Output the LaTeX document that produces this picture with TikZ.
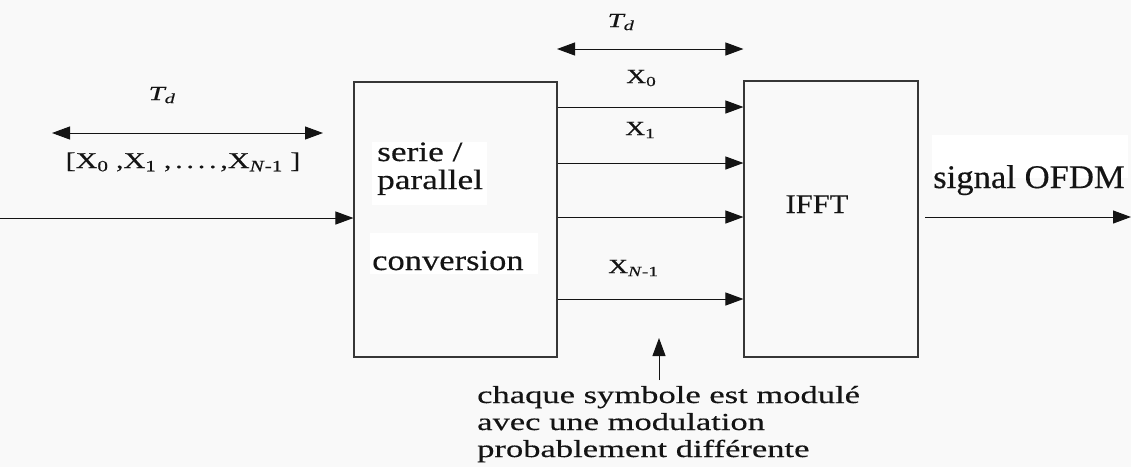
\documentclass[tikz,border=0pt]{standalone}
\usepackage{fontspec}
\setmainfont{Liberation Serif}
% the same serif face at several horizontal widths
\newfontfamily\noteface{Liberation Serif}[FakeStretch=1.41,FakeBold=0.35]
\newfontfamily\spface{Liberation Serif}[FakeStretch=1.26,FakeBold=0.35]
\newfontfamily\convface{Liberation Serif}[FakeStretch=1.19,FakeBold=0.35]
\newfontfamily\fftface{Liberation Serif}[FakeStretch=1.13,FakeBold=0.35]
\newfontfamily\sigface{Liberation Serif}[FakeStretch=1.05,FakeBold=0.35]
\newfontfamily\symface{Liberation Serif}[FakeStretch=1.38,FakeBold=0.3]
\newfontfamily\seqface{Liberation Serif}[FakeStretch=1.34,FakeBold=0.3]
\newfontfamily\durface{Liberation Serif}[FakeStretch=1.45,FakeBold=0.3]
\usetikzlibrary{arrows.meta}
\definecolor{paper}{RGB}{249,249,249}
\definecolor{ink}{RGB}{20,20,20}
\begin{document}
\begin{tikzpicture}[x=1pt,y=-1pt,
  block/.style={draw=ink!85, line width=1.1pt, inner sep=0pt},
  arr/.style={draw=ink, line width=1pt, -{Triangle[length=18pt,width=13pt]}},
  span/.style={draw=ink, line width=1pt, {Triangle[length=18pt,width=13pt]}-{Triangle[length=18pt,width=13pt]}},
  lbl/.style={inner sep=0pt, text=ink},
  sym/.style={lbl, font=\symface\fontsize{20}{24}\selectfont},
  dur/.style={lbl, font=\durface\fontsize{20}{24}\selectfont\itshape}]

% page and light paper patches behind some labels
\fill[paper] (0,0) rectangle (1131,467);
\useasboundingbox (0,0) rectangle (1131,467);
\fill[white] (372,142) rectangle (487,205);
\fill[white] (370,233) rectangle (538,274);
\fill[white] (932,135) rectangle (1128,178);

% blocks
\node[block, minimum width=203pt, minimum height=275pt] (sp) at (455.5,219.5) {};
\node[block, minimum width=174pt, minimum height=276pt] (ifft) at (831,219) {};

% block labels
\node[lbl, font=\spface\fontsize{28}{28}\selectfont, anchor=base west] (sp1) at (377,161) {serie /};
\node[lbl, font=\spface\fontsize{28}{28}\selectfont, anchor=base west] (sp2) at (377,189) {parallel};
\node[lbl, font=\convface\fontsize{29}{30}\selectfont, anchor=base west] (sp3) at (372,270) {conversion};
\node[lbl, font=\fftface\fontsize{27}{30}\selectfont, anchor=base] (fftlbl) at (817,213) {IFFT};

% serial input
\coordinate (in) at (0,218);
\node[dur, anchor=base] (tdin) at (162,100) {T\textsubscript{d}};
\coordinate (tdl) at (52,133);
\coordinate (tdr) at (323,133);
\draw[span] (tdl) -- (tdr);
\node[lbl, font=\seqface\fontsize{22.5}{26}\selectfont, anchor=base] (seq) at (183,168)
  {[X\textsubscript{0}\ ,X\textsubscript{1}\ ,\,.\,.\,.\,.\,,X\textsubscript{\textit{N}-1}\ ]};
\draw[arr] (in) -- (in -| sp.west);

% parallel branches
\coordinate (tdt) at (557,49);
\draw[span] (tdt) -- (tdt -| ifft.west);
\node[dur, anchor=base] (tdout) at (621,27) {T\textsubscript{d}};
\foreach \y in {107,163,217,299}
  \draw[arr] (sp.east |- 0,\y) -- (ifft.west |- 0,\y);
\node[sym, anchor=base west] (x0) at (626,83) {X\textsubscript{0}};
\node[sym, anchor=base west] (x1) at (625,135) {X\textsubscript{1}};
\node[sym, anchor=base west] (xn) at (608,273) {X\textsubscript{\textit{N}-1}};

% output
\coordinate (outs) at (925,217);
\coordinate (out) at (1131,217);
\draw[arr] (outs) -- (out);
\node[lbl, font=\sigface\fontsize{33}{36}\selectfont, anchor=base west] (sig) at (933,188) {signal OFDM};

% note on the modulation of each symbol (base = last line)
\node[lbl, font=\noteface\fontsize{24.5}{27}\selectfont, anchor=base west, align=left] (note) at (477,457)
  {chaque symbole est modulé\\avec une modulation\\probablement différente};
\coordinate (up) at (659,338);
\draw[arr] (up |- 0,380) -- (up);
\end{tikzpicture}
\end{document}
